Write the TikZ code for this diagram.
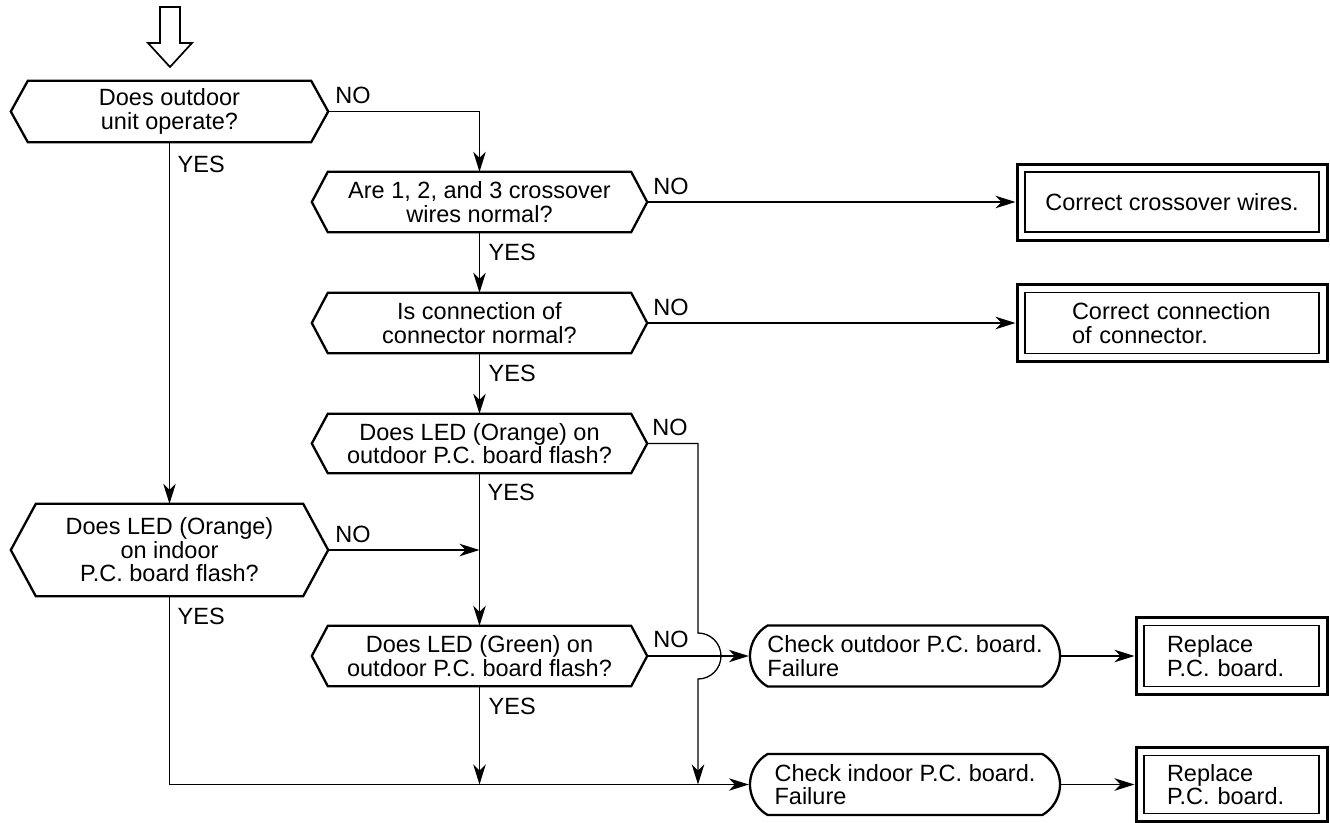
\documentclass[tikz,border=0pt]{standalone}
\usepackage{fontspec}
\setmainfont{Liberation Sans}
\usetikzlibrary{arrows.meta,shapes.misc,calc}

% outline of a decision box: left and right points, slanted by #2
\newcommand\hexframe[2]{%
  \draw[hexline] (#1.west) -- ([xshift=#2pt]#1.north west)
    -- ([xshift=-#2pt]#1.north east) -- (#1.east)
    -- ([xshift=-#2pt]#1.south east) -- ([xshift=#2pt]#1.south west) -- cycle;}

\begin{document}
\begin{tikzpicture}[x=1pt,y=1pt,
  every node/.style={font=\fontsize{23.5}{23.5}\selectfont},
  ask/.style={align=center, inner sep=0pt},
  hexline/.style={line width=2.3pt, line join=miter},
  link/.style={line width=1.3pt},
  arr/.style={link, -{Stealth[length=20pt,width=12.5pt,inset=6pt]}},
  lbl/.style={inner sep=0pt, anchor=base west},
  checkbox/.style={rounded rectangle, rounded rectangle arc length=120,
    draw, line width=2.3pt, minimum width=310pt, minimum height=61pt,
    align=left, inner sep=0pt},
  finalbox/.style={draw, line width=3pt, inner sep=0pt, align=left,
    path picture={\draw[line width=1.3pt]
      ([shift={(8pt,-8pt)}]path picture bounding box.north west) rectangle
      ([shift={(-8pt,8pt)}]path picture bounding box.south east);}}
]
\useasboundingbox (0,0) rectangle (1330,-822);

% start arrow
\draw[line width=1.7pt, line join=miter] (160,-7) -- (180,-7) -- (180,-43) -- (192,-43)
  -- (170,-67) -- (148,-43) -- (160,-43) -- cycle;

% decisions
\node[ask, minimum width=317pt, minimum height=61pt] (h1) at (169.5,-111.5)
  {Does outdoor\\unit operate?};
\hexframe{h1}{17}
\node[ask, minimum width=335pt, minimum height=60pt] (h2) at (479.5,-202)
  {Are 1, 2, and 3 crossover\\wires normal?};
\hexframe{h2}{16}
\node[ask, minimum width=335pt, minimum height=60pt] (h3) at (479.5,-323)
  {Is connection of\\connector normal?};
\hexframe{h3}{16}
\node[ask, minimum width=335pt, minimum height=59pt] (h4) at (479.5,-443.5)
  {Does LED (Orange) on\\outdoor P.C. board flash?};
\hexframe{h4}{16}
\node[ask, minimum width=335pt, minimum height=60pt] (h5) at (479.5,-656)
  {Does LED (Green) on\\outdoor P.C. board flash?};
\hexframe{h5}{16}
\node[ask, minimum width=317pt, minimum height=92pt] (h6) at (169.5,-550)
  {Does LED (Orange)\\on indoor\\P.C. board flash?};
\hexframe{h6}{25}

% checks
\node[checkbox] (rb1) at (905,-656) {Check outdoor P.C. board.\\Failure};
\node[checkbox] (rb2) at (905,-784.5) {Check indoor P.C. board.\\Failure};

% remedies
\node[finalbox, minimum width=310pt, minimum height=76pt] (dA) at (1172,-202)
  {Correct crossover wires.};
\node[finalbox, minimum width=310pt, minimum height=77pt, text width=200pt] (dB)
  at (1172,-323) {Correct connection\\of connector.};
\node[finalbox, minimum width=191pt, minimum height=77pt, text width=129pt] (dC)
  at (1231.5,-656) {Replace\\P.C. board.};
\node[finalbox, minimum width=191pt, minimum height=74pt, text width=129pt] (dD)
  at (1231.5,-784.5) {Replace\\P.C. board.};

% connectors
\coordinate (jx) at (698,0);
\draw[arr] (h1.east) -| (h2.north);
\draw[arr] (h2.south) -- (h3.north);
\draw[arr] (h3.south) -- (h4.north);
\draw[arr] (h4.south) -- (h5.north);
\draw[arr] (h2.east) -- (dA.west);
\draw[arr] (h3.east) -- (dB.west);
\draw[arr] (h1.south) -- (h6.north);
\draw[arr] (h6.east) -- (h6.east -| h4.south);
\draw[arr] (h5.east) -- (rb1.west);
\draw[arr] (h4.east) -- (h4.east -| jx) -- ($(h5.east -| jx)+(0,23)$)
  arc[start angle=90, end angle=-90, radius=23pt] -- (rb2.west -| jx);
\draw[arr] (h6.south) |- (rb2.west);
\draw[arr] (h5.south) -- (h5.south |- rb2.west);
\draw[arr] (rb1.east) -- (dC.west);
\draw[arr] (rb2.east) -- (dD.west);

% branch labels
\node[lbl] (n1) at ([xshift=7pt,yshift=8.5pt]h1.east) {NO};
\node[lbl] (n2) at ([xshift=6pt,yshift=8pt]h2.east) {NO};
\node[lbl] (n3) at ([xshift=6pt,yshift=8pt]h3.east) {NO};
\node[lbl] (n4) at ([xshift=5pt,yshift=8pt]h4.east) {NO};
\node[lbl] (n5) at ([xshift=6pt,yshift=9pt]h5.east) {NO};
\node[lbl] (n6) at ([xshift=7pt,yshift=8pt]h6.east) {NO};
\node[lbl] (y1) at ([xshift=8pt,yshift=-30pt]h1.south) {YES};
\node[lbl] (y2) at ([xshift=9pt,yshift=-28pt]h2.south) {YES};
\node[lbl] (y3) at ([xshift=9pt,yshift=-28pt]h3.south) {YES};
\node[lbl] (y4) at ([xshift=8pt,yshift=-27pt]h4.south) {YES};
\node[lbl] (y5) at ([xshift=9pt,yshift=-28pt]h5.south) {YES};
\node[lbl] (y6) at ([xshift=8pt,yshift=-28pt]h6.south) {YES};
\end{tikzpicture}
\end{document}
